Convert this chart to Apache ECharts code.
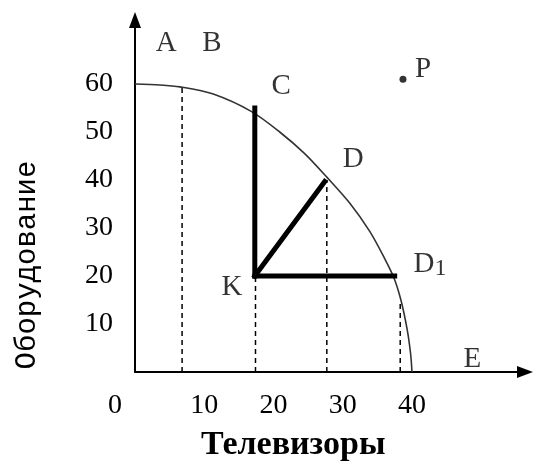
<!DOCTYPE html>
<html>
<head>
<meta charset="utf-8">
<script src="https://cdn.jsdelivr.net/npm/echarts@6/dist/echarts.min.js"></script>
<style>html,body{margin:0;padding:0;background:#fff}#c{width:536px;height:468px}</style>
</head>
<body>
<div id="c"></div>
<script>
// Production possibility curve
const curveX = [0, 3.6, 6.5, 11.3, 16.9, 20.9, 24.5, 27.7, 31.0, 33.9, 36.0, 37.4, 38.4, 39.3, 39.8, 40.0];
const curveY = [60, 59.8, 59.4, 57.9, 54.2, 50.0, 45.5, 40.6, 35.2, 29.3, 23.8, 19.6, 15.0, 8.9, 3.8, 0];
// Dashed drop lines: x position and top value
const dropX = [6.8, 17.4, 27.7, 38.3];
const dropTop = [59.4, 20, 40, 15];
// Point K and the thick segments to C, D, D1
const pointK = [17.3, 20];
const pointC = [17.3, 55];
const pointD = [27.4, 39.7];
const pointD1 = [37.5, 20];
const pointP = [38.7, 61];
// Letter labels
const labelNames = ['A', 'B', 'C', 'D', 'D1', 'K', 'E', 'P'];
const labelX = [4.5, 11.1, 21.1, 31.5, 42.6, 14.0, 48.7, 41.6];
const labelY = [68.4, 68.4, 59.4, 44.2, 22.5, 17.7, 2.7, 63.1];
// Axis tick labels
const xTicks = [0, 10, 20, 30, 40];
const yTicks = [10, 20, 30, 40, 50, 60];
const xTitle = 'Телевизоры';
const yTitle = 'Оборудование';

const mono = 'Liberation Mono';
const serif = 'Liberation Serif';

const series = [];
series.push({
  type: 'line', smooth: 0.3, showSymbol: false, silent: true,
  data: curveX.map((x, i) => [x, curveY[i]]),
  lineStyle: {color: '#333', width: 1.6}
});
dropX.forEach((x, i) => {
  series.push({
    type: 'line', showSymbol: false, silent: true,
    data: [[x, 0], [x, dropTop[i]]],
    lineStyle: {color: '#000', width: 1.5, type: [5, 4]}
  });
});
[pointC, pointD, pointD1].forEach(p => {
  series.push({
    type: 'line', showSymbol: false, silent: true,
    data: [pointK, p],
    lineStyle: {color: '#000', width: 5, cap: 'square'}
  });
});
series.push({
  type: 'scatter', symbolSize: 7, silent: true,
  data: [pointP], itemStyle: {color: '#000'}
});
series.push({
  type: 'scatter', symbolSize: 1, silent: true,
  itemStyle: {color: 'rgba(0,0,0,0)'},
  data: labelNames.map((n, i) => ({name: n, value: [labelX[i], labelY[i]]})),
  label: {
    show: true, position: 'inside', color: '#000',
    fontFamily: serif, fontSize: 29,
    formatter: p => p.name === 'D1' ? '{m|D}{s|1}' : p.name,
    rich: {
      m: {fontFamily: serif, fontSize: 29, color: '#000'},
      s: {fontFamily: serif, fontSize: 24, color: '#000', padding: [10, 0, 0, 0]}
    }
  }
});

const chart = echarts.init(document.getElementById('c'), null, {renderer: 'canvas'});
chart.setOption({
  animation: false,
  backgroundColor: '#fff',
  title: {
    text: xTitle, left: 196, top: 423,
    textStyle: {fontFamily: serif, fontWeight: 'bold', fontSize: 34, color: '#000'}
  },
  graphic: [{
    type: 'text', x: 27, y: 265, rotation: Math.PI / 2,
    style: {text: yTitle, fontFamily: mono, fontSize: 29, fill: '#000', align: 'center', verticalAlign: 'middle'}
  }],
  grid: {left: 135, right: 11, top: 20, bottom: 96, containLabel: false, outerBoundsMode: 'none'},
  xAxis: {
    type: 'value', min: 0, max: 56.32, interval: 10,
    splitLine: {show: false}, axisTick: {show: false},
    axisLine: {lineStyle: {color: '#000', width: 2}, symbol: ['none', 'triangle'], symbolSize: [12, 16], symbolOffset: [0, 0]},
    axisLabel: {
      margin: 20, color: '#000', fontFamily: serif, fontSize: 28,
      showMinLabel: true, showMaxLabel: false,
      formatter: v => xTicks.indexOf(v) < 0 ? '' : (v === 0 ? '{z|0}' : String(v)),
      rich: {z: {fontFamily: serif, fontSize: 28, color: '#000', padding: [0, 40, 0, 0]}}
    }
  },
  yAxis: {
    type: 'value', min: 0, max: 73.333, interval: 10,
    splitLine: {show: false}, axisTick: {show: false},
    axisLine: {lineStyle: {color: '#000', width: 2}, symbol: ['none', 'triangle'], symbolSize: [12, 16], symbolOffset: [0, 0]},
    axisLabel: {
      margin: 22, color: '#000', fontFamily: serif, fontSize: 28,
      formatter: v => yTicks.indexOf(v) < 0 ? '' : String(v)
    }
  },
  series: series
});
</script>
</body>
</html>
